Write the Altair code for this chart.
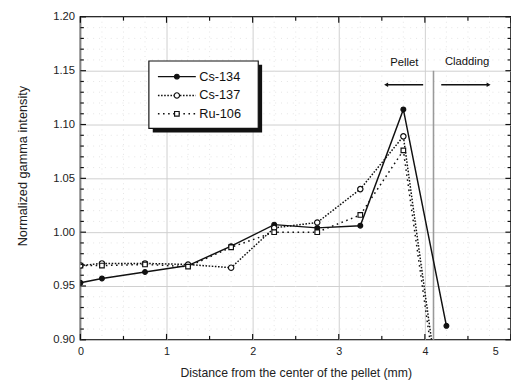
import altair as alt
import pandas as pd
import numpy as np

# ---- data ----
x_pos = [0.0, 0.25, 0.75, 1.25, 1.75, 2.25, 2.75, 3.25, 3.75, 4.25]
cs134 = [0.953, 0.957, 0.963, 0.969, 0.987, 1.007, 1.004, 1.006, 1.114, 0.913]
cs137 = [0.969, 0.971, 0.971, 0.970, 0.967, 1.004, 1.009, 1.040, 1.089, 0.800]
ru106 = [0.969, 0.969, 0.970, 0.968, 0.986, 1.000, 1.000, 1.016, 1.076, 0.790]
series_names = ["Cs-134", "Cs-137", "Ru-106"]
x_ticks = [0, 1, 2, 3, 4, 5]
y_ticks = [0.90, 0.95, 1.00, 1.05, 1.10, 1.15, 1.20]
boundary_x = 4.1
region_labels = ["Pellet", "Cladding"]

FONT = "Liberation Sans"
xs = alt.Scale(domain=[0, 5], nice=False, zero=False)
ys = alt.Scale(domain=[0.90, 1.20], nice=False, zero=False)

x_axis = alt.Axis(values=x_ticks, format="d", grid=True, gridColor="#cfcfcf", gridWidth=1,
                  ticks=False, domain=False, labelPadding=6, labelFontSize=11, labelFlush=False,
                  labelAlign={"expr": "datum.value >= 5 ? 'right' : 'center'"},
                  labelOffset={"expr": "datum.value >= 5 ? -13 : 0"},
                  labelFont=FONT, titleFont=FONT, titleFontSize=12.5,
                  titleFontWeight="normal", titlePadding=10, labelColor="#222",
                  titleColor="#222")
y_axis = alt.Axis(values=y_ticks, format=".2f", grid=True, gridColor="#cfcfcf", gridWidth=1,
                  ticks=False, domain=False, labelPadding=6, labelFontSize=11.5, labelFlush=False,
                  labelFont=FONT, titleFont=FONT, titleFontSize=13,
                  titleFontWeight="normal", titlePadding=24, titleY=152, labelColor="#222",
                  titleColor="#222")
X_TITLE = "Distance from the center of the pellet (mm)"
Y_TITLE = "Normalized gamma intensity"


def X(f="x"):
    return alt.X(f + ":Q", scale=xs, axis=x_axis, title=X_TITLE)


def Y(f="y"):
    return alt.Y(f + ":Q", scale=ys, axis=y_axis, title=Y_TITLE)


# ---- minor dotted grid ----
minor_x = [v for v in np.arange(0.25, 5.0, 0.25) if abs(v - round(v)) > 1e-6]
minor_y = [round(v, 4) for v in np.arange(0.91, 1.20, 0.01) if abs(round(v * 20) - v * 20) > 1e-6]
grid_x = alt.Chart(pd.DataFrame({"x": minor_x})).mark_rule(
    color="#e4e4e4", strokeDash=[1, 4], strokeWidth=1).encode(x=X())
grid_y = alt.Chart(pd.DataFrame({"y": minor_y})).mark_rule(
    color="#e4e4e4", strokeDash=[1, 5], strokeWidth=1).encode(y=Y())

# ---- inward ticks on all four sides ----
tick_rows = []
for v in np.arange(0, 5.01, 0.5):
    major = abs(v - round(v)) < 1e-6
    ln = 0.0055 if major else 0.0035
    tick_rows.append({"x": v, "x2": v, "y": 0.90, "y2": 0.90 + ln})
    tick_rows.append({"x": v, "x2": v, "y": 1.20, "y2": 1.20 - ln})
for v in np.arange(0.90, 1.2001, 0.01):
    major = abs(round(v * 20) - v * 20) < 1e-6
    ln = 0.065 if major else 0.04
    tick_rows.append({"x": 0.0, "x2": ln, "y": v, "y2": v})
    tick_rows.append({"x": 5.0, "x2": 5.0 - ln, "y": v, "y2": v})
ticks = alt.Chart(pd.DataFrame(tick_rows)).mark_rule(color="#111", strokeWidth=1.2).encode(
    x=X(), x2="x2:Q", y=Y(), y2="y2:Q")

# ---- pellet / cladding boundary and annotations ----
bnd = alt.Chart(pd.DataFrame({"x": [boundary_x], "y": [0.90], "y2": [1.15]})).mark_rule(
    color="#9a9a9a", strokeWidth=1.6).encode(x=X(), y=Y(), y2="y2:Q")

ann_txt = alt.Chart(pd.DataFrame({"x": [3.76, 4.49], "y": [1.157, 1.158], "t": region_labels})).mark_text(
    font=FONT, fontSize=11.5, color="#111").encode(x=X(), y=Y(), text="t:N")

arr_lines = alt.Chart(pd.DataFrame({"x": [3.55, 4.19], "x2": [3.98, 4.74], "y": [1.137, 1.137]})).mark_rule(
    color="#111", strokeWidth=1.6).encode(x=X(), x2="x2:Q", y=Y())
arr_l = alt.Chart(pd.DataFrame({"x": [3.55], "y": [1.137]})).mark_point(
    shape="triangle-left", filled=True, color="#111", size=22, opacity=1).encode(x=X(), y=Y())
arr_r = alt.Chart(pd.DataFrame({"x": [4.74], "y": [1.137]})).mark_point(
    shape="triangle-right", filled=True, color="#111", size=22, opacity=1).encode(x=X(), y=Y())

# ---- series ----
styles = {
    "Cs-134": dict(dash=None, shape="circle", fill="#111", size=24),
    "Cs-137": dict(dash=[1.6, 1.6], shape="circle", fill="white", size=30),
    "Ru-106": dict(dash=[1.6, 3.6], shape="square", fill="white", size=22),
}
vals = {"Cs-134": cs134, "Cs-137": cs137, "Ru-106": ru106}

layers = []
for name in series_names:
    st = styles[name]
    df = pd.DataFrame({"x": x_pos, "y": vals[name]})
    lk = dict(color="#111", strokeWidth=1.5, clip=True)
    if st["dash"]:
        lk["strokeDash"] = st["dash"]
    layers.append(alt.Chart(df).mark_line(**lk).encode(x=X(), y=Y()))
    layers.append(alt.Chart(df).mark_point(shape=st["shape"], filled=True, fill=st["fill"], stroke="#111",
                                           strokeWidth=1.2, size=st["size"], opacity=1, clip=True
                                           ).encode(x=X(), y=Y()))

# ---- legend (drawn in data space) ----
leg_y = [1.1445, 1.127, 1.110]
shadow = alt.Chart(pd.DataFrame({"x": [0.84], "x2": [2.11], "y": [1.1555], "y2": [1.0925]})).mark_rect(
    color="#111").encode(x=X(), x2="x2:Q", y=Y(), y2="y2:Q")
box = alt.Chart(pd.DataFrame({"x": [0.795], "x2": [2.065], "y": [1.159], "y2": [1.0965]})).mark_rect(
    fill="white", stroke="#111", strokeWidth=1.2).encode(x=X(), x2="x2:Q", y=Y(), y2="y2:Q")
leg_layers = [shadow, box]
for name, yy in zip(series_names, leg_y):
    st = styles[name]
    rk = dict(color="#111", strokeWidth=1.5)
    if st["dash"]:
        rk["strokeDash"] = st["dash"]
    leg_layers.append(alt.Chart(pd.DataFrame({"x": [0.90], "x2": [1.34], "y": [yy]})).mark_rule(**rk).encode(
        x=X(), x2="x2:Q", y=Y()))
    leg_layers.append(alt.Chart(pd.DataFrame({"x": [1.12], "y": [yy]})).mark_point(
        shape=st["shape"], filled=True, fill=st["fill"], stroke="#111", strokeWidth=1.2,
        size=st["size"], opacity=1).encode(x=X(), y=Y()))
    leg_layers.append(alt.Chart(pd.DataFrame({"x": [1.38], "y": [yy], "t": [name]})).mark_text(
        align="left", baseline="middle", font=FONT, fontSize=13, color="#111").encode(
        x=X(), y=Y(), text="t:N"))

chart = alt.layer(grid_x, grid_y, bnd, *layers, ticks, ann_txt, arr_lines, arr_l, arr_r,
                  *leg_layers).properties(
    width=440, height=330,
    autosize=alt.AutoSizeParams(type="none"),
    padding={"left": 74, "top": 5, "right": 0, "bottom": 38},
    background="white",
).configure_view(stroke="#111", strokeWidth=1.6)

chart.save("out.html", embed_options={"renderer": "svg", "actions": False})
